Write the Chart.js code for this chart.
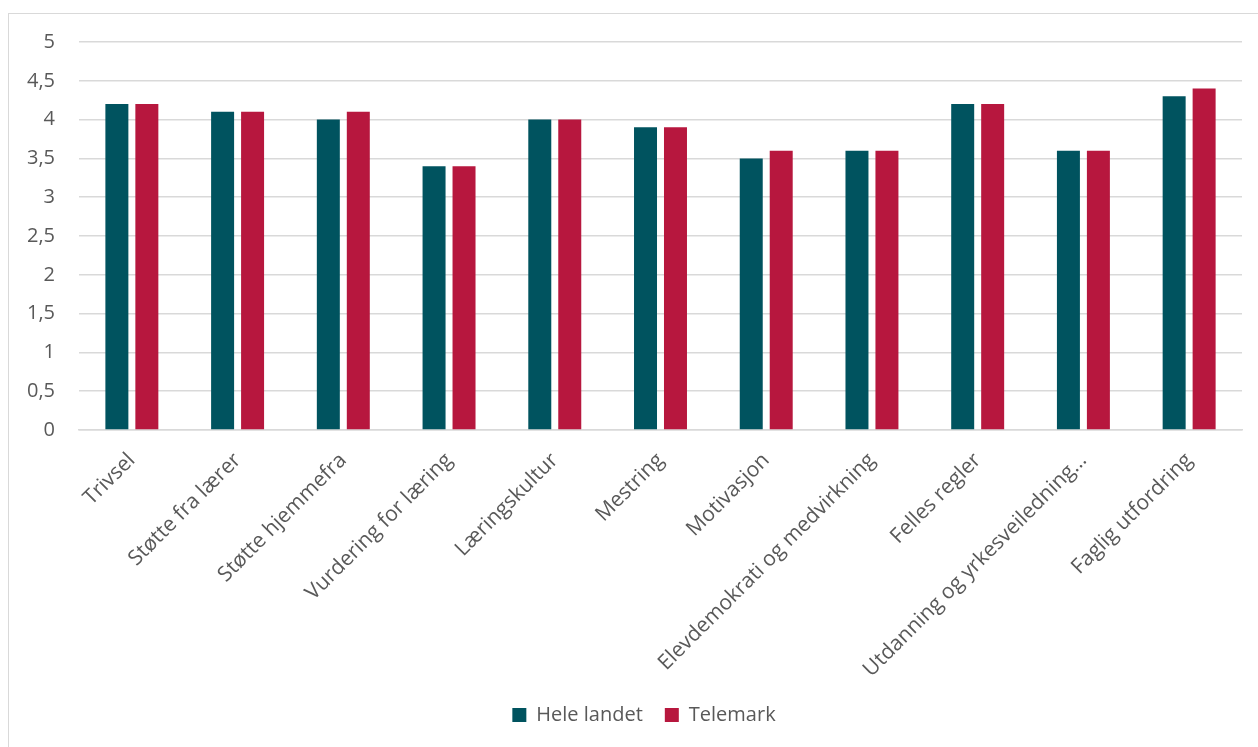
<!DOCTYPE html>
<html>
<head>
<meta charset="utf-8">
<script src="https://cdn.jsdelivr.net/npm/chart.js@4/dist/chart.umd.min.js"></script>
<style>
  html, body { margin: 0; padding: 0; background: #fff; overflow: hidden; }
  #frame { position: absolute; left: 8px; top: 13px; width: 1250px; height: 734px; box-sizing: border-box; border-left: 1px solid #d9d9d9; border-top: 1px solid #d9d9d9; }
  #wrap { position: absolute; left: 8px; top: 13px; width: 1250px; height: 734px; }
</style>
</head>
<body>
<div id="frame"></div>
<div id="wrap"><canvas id="c" width="1250" height="734"></canvas></div>
<script>
const categories = ["Trivsel", "Støtte fra lærer", "Støtte hjemmefra", "Vurdering for læring", "Læringskultur", "Mestring", "Motivasjon", "Elevdemokrati og medvirkning", "Felles regler", "Utdanning og yrkesveiledning…", "Faglig utfordring"];
const heleLandet = [4.2, 4.1, 4.0, 3.4, 4.0, 3.9, 3.5, 3.6, 4.2, 3.6, 4.3];
const telemark = [4.2, 4.1, 4.1, 3.4, 4.0, 3.9, 3.6, 3.6, 4.2, 3.6, 4.4];
const seriesNames = ["Hele landet", "Telemark"];
const yTicks = [0, 0.5, 1, 1.5, 2, 2.5, 3, 3.5, 4, 4.5, 5];

const FONT = "'Open Sans', sans-serif";
const GREY = "#595959";

const shiftLegend = {
  id: 'shiftLegend',
  afterLayout(chart) {
    const d = 14;
    if (chart.legend) { chart.legend.left += d; chart.legend.right += d; }
  }
};

new Chart(document.getElementById('c'), {
  type: 'bar',
  data: {
    labels: categories,
    datasets: [
      { label: seriesNames[0], data: heleLandet, backgroundColor: '#00535F', categoryPercentage: 0.567, barPercentage: 0.767 },
      { label: seriesNames[1], data: telemark, backgroundColor: '#B7173E', categoryPercentage: 0.567, barPercentage: 0.767 }
    ]
  },
  plugins: [shiftLegend],
  options: {
    responsive: false,
    animation: false,
    layout: { padding: { left: 10, right: 16, top: 29, bottom: 12 } },
    plugins: {
      legend: {
        position: 'bottom',
        labels: { color: GREY, font: { family: FONT, size: 20 }, boxWidth: 14, boxHeight: 14, padding: 22 }
      },
      tooltip: { enabled: false }
    },
    scales: {
      x: {
        grid: { display: false, drawTicks: false },
        border: { display: true, color: '#d9d9d9', width: 1.5 },
        ticks: { color: GREY, font: { family: FONT, size: 21 }, minRotation: 45, maxRotation: 45, autoSkip: false, padding: 18 },
        afterFit: (s) => { s.height = 253; s.paddingTop = 0; s.paddingBottom = 0; }
      },
      y: {
        min: 0, max: 5,
        afterBuildTicks: (s) => { s.ticks = yTicks.map(v => ({ value: v })); },
        grid: { color: '#d9d9d9', lineWidth: 1.5, drawTicks: false },
        border: { display: false },
        ticks: {
          color: GREY, font: { family: FONT, size: 20 }, padding: 24,
          callback: (v) => String(v).replace('.', ',')
        },
        afterFit: (s) => { s.width = 61; s.paddingTop = 0; s.paddingBottom = 0; }
      }
    }
  }
});
</script>
</body>
</html>
